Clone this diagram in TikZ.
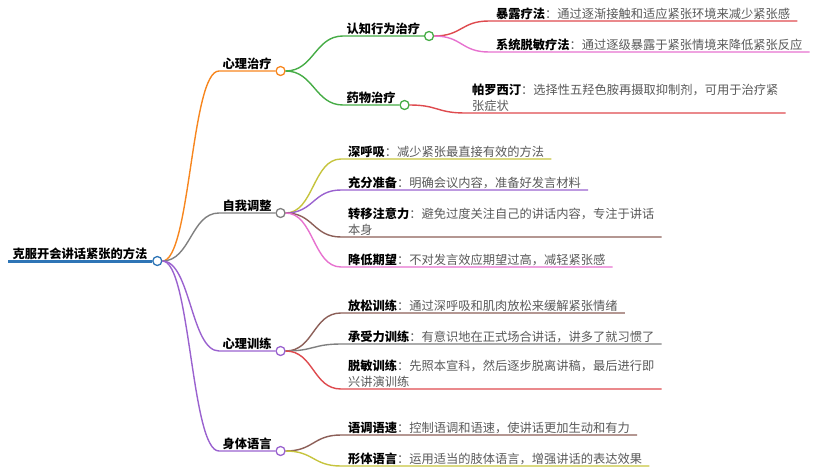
\documentclass[tikz,border=0pt]{standalone}
\usepackage{fontspec}
\setmainfont{Noto Sans CJK SC}
\usetikzlibrary{positioning}
\definecolor{rootblue}{HTML}{2E75B6}
\definecolor{brorange}{HTML}{F7861E}
\definecolor{brgray}{HTML}{7F7F7F}
\definecolor{brpurple}{HTML}{9A62CF}
\definecolor{brgreen}{HTML}{46AC46}
\definecolor{brred}{HTML}{DE4A4E}
\definecolor{brpink}{HTML}{E772CF}
\definecolor{brolive}{HTML}{C6C43E}
\definecolor{brbrown}{HTML}{8C5F58}
\definecolor{descgray}{HTML}{595959}
\tikzset{
    topic/.style = {anchor=south west, inner xsep=3.5pt, inner ysep=1pt,
        font=\bfseries\fontsize{12.25}{16.5}\selectfont, text=black},
    leaf/.style = {topic, inner xsep=7pt, align=left, text=descgray,
        font=\fontsize{12.25}{16.5}\selectfont},
    dot/.style = {circle, draw, fill=white, line width=1.3pt,
        minimum size=9pt, inner sep=0pt},
    conn/.style = {line width=1.4pt},
}
\newcommand{\lbl}[1]{\textbf{\color{black}#1}：}

\begin{document}
\begin{tikzpicture}[x=1pt, y=-1pt]
\useasboundingbox (0,0) rectangle (820,474);

% root
\node[topic, inner xsep=4.5pt] (root) at (8,261) {克服开会讲话紧张的方法};
\draw[rootblue, line width=3pt] (root.south west) -- (root.south east);
\node[dot, draw=rootblue, right=0pt of root.south east] (rootdot) {};

% first level
\node[topic] (xl) at (219,71) {心理治疗};
\node[dot, draw=brorange, right=0pt of xl.south east] (xldot) {};
\draw[conn, brorange] (rootdot.east) .. controls +(28,0) and +(-28,0) .. (xl.south west) -- (xl.south east);

\node[topic] (zw) at (219,213) {自我调整};
\node[dot, draw=brgray, right=0pt of zw.south east] (zwdot) {};
\draw[conn, brgray] (rootdot.east) .. controls +(28,0) and +(-28,0) .. (zw.south west) -- (zw.south east);

\node[topic] (xx) at (219,351) {心理训练};
\node[dot, draw=brpurple, right=0pt of xx.south east] (xxdot) {};
\draw[conn, brpurple] (rootdot.east) .. controls +(28,0) and +(-28,0) .. (xx.south west) -- (xx.south east);

\node[topic] (st) at (219,451) {身体语言};
\node[dot, draw=brpurple, right=0pt of st.south east] (stdot) {};
\draw[conn, brpurple] (rootdot.east) .. controls +(28,0) and +(-28,0) .. (st.south west) -- (st.south east);

% 心理治疗
\node[topic] (rz) at (343,36) {认知行为治疗};
\node[dot, draw=brgreen, right=0pt of rz.south east] (rzdot) {};
\draw[conn, brgreen] (xldot.east) .. controls +(28,0) and +(-28,0) .. (rz.south west) -- (rz.south east);

\node[topic] (yw) at (343,105) {药物治疗};
\node[dot, draw=brgreen, right=0pt of yw.south east] (ywdot) {};
\draw[conn, brgreen] (xldot.east) .. controls +(28,0) and +(-28,0) .. (yw.south west) -- (yw.south east);

\node[leaf] (bl) at (489,21) {\lbl{暴露疗法}通过逐渐接触和适应紧张环境来减少紧张感};
\draw[conn, brred] (rzdot.east) .. controls +(28,0) and +(-28,0) .. (bl.south west) -- (bl.south east);

\node[leaf] (xt) at (489,52) {\lbl{系统脱敏疗法}通过逐级暴露于紧张情境来降低紧张反应};
\draw[conn, brpink] (rzdot.east) .. controls +(28,0) and +(-28,0) .. (xt.south west) -- (xt.south east);

\node[leaf] (pl) at (465,113) {\lbl{帕罗西汀}选择性五羟色胺再摄取抑制剂，可用于治疗紧\\张症状};
\draw[conn, brred] (ywdot.east) .. controls +(28,0) and +(-28,0) .. (pl.south west) -- (pl.south east);

% 自我调整
\node[leaf] (sh) at (341,159) {\lbl{深呼吸}减少紧张最直接有效的方法};
\draw[conn, brolive] (zwdot.east) .. controls +(28,0) and +(-28,0) .. (sh.south west) -- (sh.south east);

\node[leaf] (cf) at (341,190) {\lbl{充分准备}明确会议内容，准备好发言材料};
\draw[conn, brpurple] (zwdot.east) .. controls +(28,0) and +(-28,0) .. (cf.south west) -- (cf.south east);

\node[leaf] (zy) at (341,237) {\lbl{转移注意力}避免过度关注自己的讲话内容，专注于讲话\\本身};
\draw[conn, brbrown] (zwdot.east) .. controls +(28,0) and +(-28,0) .. (zy.south west) -- (zy.south east);

\node[leaf] (jd) at (341,267) {\lbl{降低期望}不对发言效应期望过高，减轻紧张感};
\draw[conn, brpink] (zwdot.east) .. controls +(28,0) and +(-28,0) .. (jd.south west) -- (jd.south east);

% 心理训练
\node[leaf] (fs) at (341,313) {\lbl{放松训练}通过深呼吸和肌肉放松来缓解紧张情绪};
\draw[conn, brbrown] (xxdot.east) .. controls +(28,0) and +(-28,0) .. (fs.south west) -- (fs.south east);

\node[leaf] (cs) at (341,344) {\lbl{承受力训练}有意识地在正式场合讲话，讲多了就习惯了};
\draw[conn, brgray] (xxdot.east) .. controls +(28,0) and +(-28,0) .. (cs.south west) -- (cs.south east);

\node[leaf] (tm) at (341,389) {\lbl{脱敏训练}先照本宣科，然后逐步脱离讲稿，最后进行即\\兴讲演训练};
\draw[conn, brred] (xxdot.east) .. controls +(28,0) and +(-28,0) .. (tm.south west) -- (tm.south east);

% 身体语言
\node[leaf] (yd) at (341,435) {\lbl{语调语速}控制语调和语速，使讲话更加生动和有力};
\draw[conn, brbrown] (stdot.east) .. controls +(28,0) and +(-28,0) .. (yd.south west) -- (yd.south east);

\node[leaf] (xt2) at (341,466) {\lbl{形体语言}运用适当的肢体语言，增强讲话的表达效果};
\draw[conn, brolive] (stdot.east) .. controls +(28,0) and +(-28,0) .. (xt2.south west) -- (xt2.south east);
\end{tikzpicture}
\end{document}
